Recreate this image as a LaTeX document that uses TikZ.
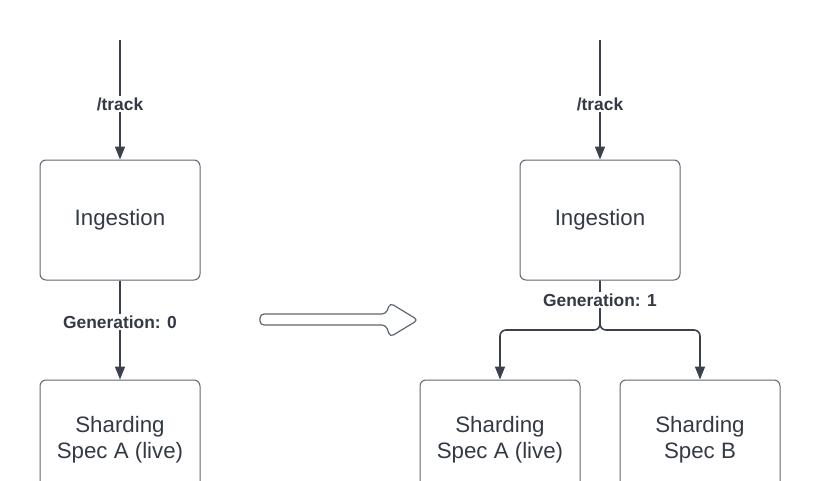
\documentclass[tikz,border=0pt]{standalone}
\usepackage{fontspec}
\setmainfont{Liberation Sans}
\usetikzlibrary{arrows.meta}
\definecolor{linec}{HTML}{3A414C}
\definecolor{boxc}{HTML}{5E6670}
\definecolor{textc}{HTML}{333A45}
\tikzset{
  box/.style={draw=boxc, line width=1pt, rounded corners=6pt, minimum width=160pt, minimum height=120pt,
    inner sep=0pt, align=center, text=textc, font=\fontsize{22.3}{26}\selectfont},
  conn/.style={draw=linec, line width=1.6pt, -{Triangle[length=13pt,width=10pt]}},
  lbl/.style={fill=white, text=textc, font=\fontsize{17.4}{20}\selectfont\bfseries, inner sep=2pt}
}
\begin{document}
\begin{tikzpicture}[x=1pt,y=-1pt]
\useasboundingbox (0,0) rectangle (820,480);
\clip (0,0) rectangle (820,480);
% left
\node[box] (ing1) at (120,220) {Ingestion};
\node[box] (sa1) at (120,440) {Sharding\\Spec A (live)};
\coordinate (t1) at (120,40);
\draw[conn] (t1) -- (ing1.north);
\draw[conn] (ing1.south) -- (sa1.north);
\node[lbl] (tr1) at (120,104) {/track};
\node[lbl] (g0) at (120,322) {Generation: 0};
% right
\node[box] (ing2) at (600,220) {Ingestion};
\node[box] (sa2) at (500,440) {Sharding\\Spec A (live)};
\node[box] (sb2) at (700,440) {Sharding\\Spec B};
\coordinate (t2) at (600,40);
\coordinate (j) at (600,330);
\draw[conn] (t2) -- (ing2.north);
\draw[conn, rounded corners=6pt] (ing2.south) -- (j) -| (sa2.north);
\draw[conn, rounded corners=6pt] (ing2.south) -- (j) -| (sb2.north);
\node[lbl] (tr2) at (600,104) {/track};
\node[lbl] (g1) at (600,300) {Generation: 1};
% big hollow arrow
\draw[boxc, line width=1.2pt, rounded corners=4pt]
  (260,314) -- (386,314) -- (390,303) -- (418,320) -- (390,337) -- (386,325) -- (260,325) -- cycle;
\end{tikzpicture}
\end{document}
